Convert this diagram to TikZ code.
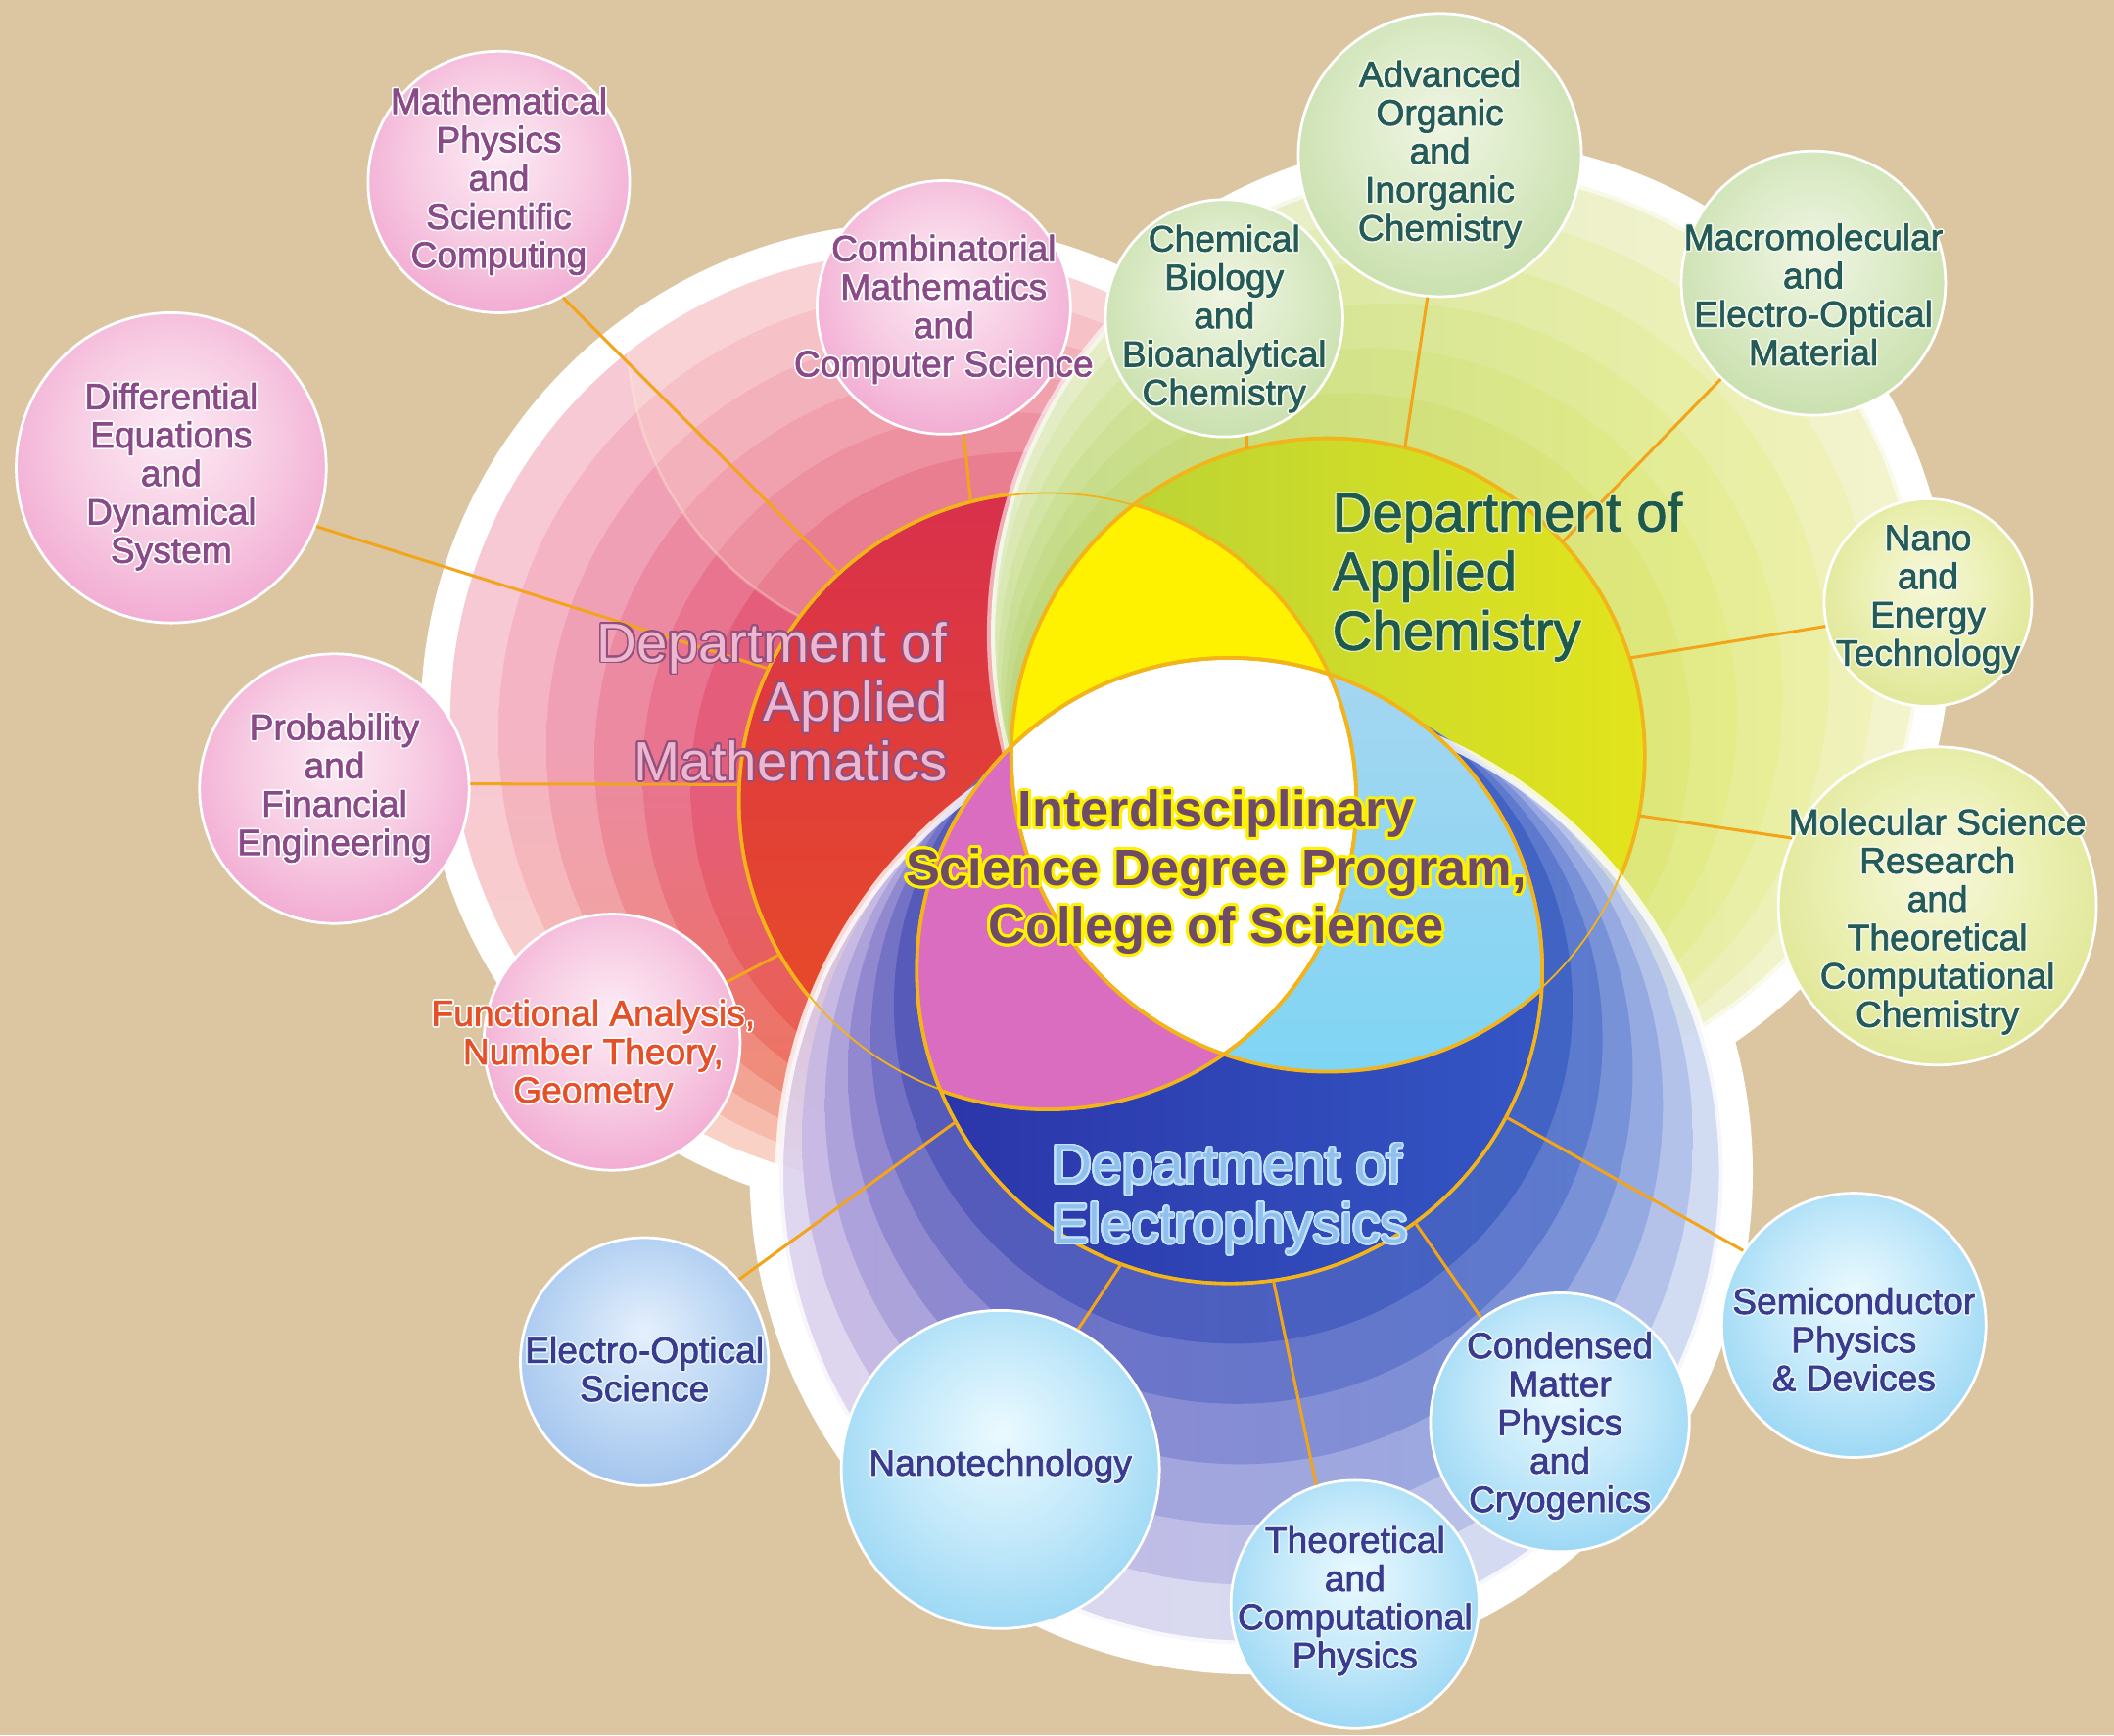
\documentclass[tikz,border=0pt]{standalone}
\usepackage{fontspec}
\setmainfont{Liberation Sans}
\usepackage{contour}
\contournumber{24}
\def\ctc{white}
\newcommand\ct[1]{\contour{\ctc}{#1}}
\newcommand\trmode[1]{\special{pdf:literal direct #1}}
\definecolor{bgtan}{HTML}{DCC6A2}
\definecolor{linkc}{HTML}{F2A51A}
\definecolor{ringc}{HTML}{F2B418}
\definecolor{R0}{HTML}{F7C9D4}\definecolor{R1}{HTML}{F4B4C4}\definecolor{R2}{HTML}{F0A0B4}
\definecolor{R3}{HTML}{EC8AA2}\definecolor{R4}{HTML}{E87490}\definecolor{R5}{HTML}{E45E7C}
\definecolor{Q0}{HTML}{F9D2C4}\definecolor{Q1}{HTML}{F6BCA8}\definecolor{Q2}{HTML}{F3A48C}
\definecolor{Q3}{HTML}{F08C70}\definecolor{Q4}{HTML}{EE7458}\definecolor{Q5}{HTML}{EC6044}
\definecolor{G0}{HTML}{E2ECC4}\definecolor{G1}{HTML}{DAE8B4}\definecolor{G2}{HTML}{D2E4A4}
\definecolor{G3}{HTML}{CADF96}\definecolor{G4}{HTML}{C4DB8A}\definecolor{G5}{HTML}{BED77E}
\definecolor{Y0}{HTML}{F4F4CC}\definecolor{Y1}{HTML}{F0F2B8}\definecolor{Y2}{HTML}{ECF0A6}
\definecolor{Y3}{HTML}{E8EE96}\definecolor{Y4}{HTML}{E4EC88}\definecolor{Y5}{HTML}{E0E87A}
\definecolor{B0}{HTML}{DCD2EE}\definecolor{B1}{HTML}{C6B8E4}\definecolor{B2}{HTML}{ACA0DA}
\definecolor{B3}{HTML}{9086CE}\definecolor{B4}{HTML}{7270C4}\definecolor{B5}{HTML}{5458B8}
\definecolor{C0}{HTML}{CCD8F0}\definecolor{C1}{HTML}{B0C0EA}\definecolor{C2}{HTML}{92A8E2}
\definecolor{C3}{HTML}{7490D8}\definecolor{C4}{HTML}{5878CE}\definecolor{C5}{HTML}{3E62C4}
\definecolor{redtop}{HTML}{D8304C}\definecolor{redbot}{HTML}{EA4F22}
\definecolor{grnl}{HTML}{B4D03A}\definecolor{grnr}{HTML}{E2E41C}
\definecolor{blul}{HTML}{2A34A8}\definecolor{blur}{HTML}{3456C4}
\definecolor{yelc}{HTML}{FFF200}
\definecolor{magc}{HTML}{DB6DC0}
\definecolor{lbtop}{HTML}{A6D6F0}\definecolor{lbbot}{HTML}{6CD4F6}
\definecolor{veil}{HTML}{FFF4D8}
\definecolor{ptxc}{HTML}{8A4A88}
\definecolor{otxc}{HTML}{E65028}
\definecolor{gtxc}{HTML}{245A58}
\definecolor{gctc}{HTML}{F2F7E6}
\definecolor{btxc}{HTML}{3A3A8E}
\definecolor{bctc}{HTML}{E2F4FC}
\definecolor{dmtx}{HTML}{EDB8CF}\definecolor{dmct}{HTML}{93507F}
\definecolor{dctx}{HTML}{1E5A4C}\definecolor{dcct}{HTML}{E2EAA6}
\definecolor{detx}{HTML}{90C0EE}\definecolor{dect}{HTML}{C4E2FA}
\definecolor{cetx}{HTML}{6E4C68}\definecolor{cect}{HTML}{FFF200}
\pgfdeclareradialshading{pinkball}{\pgfpoint{0bp}{6bp}}{rgb(0bp)=(0.99,0.92,0.96); rgb(16bp)=(0.97,0.80,0.89); rgb(34bp)=(0.94,0.62,0.80); rgb(50bp)=(0.91,0.50,0.73); rgb(62bp)=(0.91,0.50,0.73)}
\pgfdeclareradialshading{greenball}{\pgfpoint{0bp}{6bp}}{rgb(0bp)=(0.94,0.96,0.89); rgb(16bp)=(0.86,0.92,0.78); rgb(34bp)=(0.76,0.86,0.64); rgb(50bp)=(0.66,0.80,0.52); rgb(62bp)=(0.66,0.80,0.52)}
\pgfdeclareradialshading{ygball}{\pgfpoint{0bp}{6bp}}{rgb(0bp)=(0.97,0.97,0.86); rgb(16bp)=(0.92,0.94,0.70); rgb(34bp)=(0.86,0.89,0.54); rgb(50bp)=(0.80,0.85,0.42); rgb(62bp)=(0.80,0.85,0.42)}
\pgfdeclareradialshading{blueball}{\pgfpoint{0bp}{6bp}}{rgb(0bp)=(0.92,0.98,1.0); rgb(16bp)=(0.76,0.91,0.98); rgb(34bp)=(0.55,0.82,0.95); rgb(50bp)=(0.38,0.74,0.92); rgb(62bp)=(0.38,0.74,0.92)}
\pgfdeclareradialshading{lilacball}{\pgfpoint{0bp}{6bp}}{rgb(0bp)=(0.90,0.94,0.99); rgb(16bp)=(0.75,0.85,0.96); rgb(34bp)=(0.60,0.74,0.92); rgb(50bp)=(0.50,0.66,0.90); rgb(62bp)=(0.50,0.66,0.90)}
\begin{document}
\begin{tikzpicture}[x=1pt,y=-1pt,
  link/.style={draw=linkc, line width=2.2pt},
  orb/.style={circle, draw=white, line width=2pt, inner sep=0pt, shade, shading=#1},
  inring/.style={draw=ringc, line width=2.6pt},
  medium/.style={execute at begin node={\trmode{2 Tr 0.5 w 1 j}}, execute at end node={\trmode{0 Tr}}},
  ptx/.style={align=center, inner sep=0pt, text=ptxc, medium, font={\fontsize{27}{28.5}\selectfont\def\ctc{white}\contourlength{1.1pt}}},
  otx/.style={align=center, inner sep=0pt, text=otxc, medium, font={\fontsize{27}{28.5}\selectfont\def\ctc{white}\contourlength{1.1pt}}},
  gtx/.style={align=center, inner sep=0pt, text=gtxc, medium, font={\fontsize{27}{28.5}\selectfont\def\ctc{gctc}\contourlength{1.1pt}}},
  btx/.style={align=center, inner sep=0pt, text=btxc, medium, font={\fontsize{27}{28.5}\selectfont\def\ctc{bctc}\contourlength{1.1pt}}},
  deptm/.style={align=right, inner sep=0pt, text=dmtx, font={\fontsize{41}{44}\selectfont\def\ctc{dmct}\contourlength{1.3pt}}},
  deptc/.style={align=left, inner sep=0pt, text=dctx, medium, font={\fontsize{41}{44}\selectfont\def\ctc{dcct}\contourlength{1pt}}},
  depte/.style={align=left, inner sep=0pt, text=detx, font={\fontsize{41}{44}\selectfont\def\ctc{dect}\contourlength{1.3pt}}},
  centre/.style={align=center, inner sep=0pt, text=cetx, font={\bfseries\fontsize{38}{43}\selectfont\def\ctc{cect}\contourlength{2.2pt}}}
]
\useasboundingbox (0,0) rectangle (1568,1287);
\fill[bgtan] (0,0) rectangle (1568,1287);
% white backing
\fill[white] (680,533) circle (368) (1080,470) circle (367) (928,870) circle (372);
% red department rings
\foreach \cx/\cy/\r/\col/\bcol in {680/533/346/R0/Q0, 696.2/543.2/326.5/R1/Q1, 712.3/553.3/307/R2/Q2, 728.5/563.5/287.5/R3/Q3, 744.7/573.7/268/R4/Q4, 760.8/583.8/248.5/R5/Q5}
  \shade[top color=\col, bottom color=\bcol, middle color=\col] (\cx,\cy) circle (\r);
\begin{scope}
  \clip (680,533) circle (346);
  \fill[veil, opacity=0.22] (705,245) circle (240);
  \draw[veil, opacity=0.3, line width=2pt] (705,245) circle (240);
\end{scope}
\shade[top color=redtop, bottom color=redbot] (777,594) circle (229);
\draw[inring] (777,594) circle (229);
% green department rings
\foreach \cx/\cy/\r/\col/\rcol in {1080/470/345/G0/Y0, 1064.2/485/326.7/G1/Y1, 1048.3/500/308.3/G2/Y2, 1032.5/515/290/G3/Y3, 1016.7/530/271.7/G4/Y4, 1000.8/545/253.3/G5/Y5}
  \shade[left color=\col, right color=\rcol] (\cx,\cy) circle (\r);
\draw[white, opacity=0.6, line width=6pt] (1080,470) circle (345);
\shade[left color=grnl, right color=grnr] (985,560) circle (235);
\draw[inring] (985,560) circle (235);
\begin{scope}
  \clip (777,594) circle (229);
  \fill[yelc] (985,560) circle (235);
\end{scope}
% blue department rings
\begin{scope}[opacity=0.9]
\foreach \cx/\cy/\r/\col/\rcol in {928/870/350/B0/C0, 925.3/845/330.3/B1/C1, 922.7/820/310.7/B2/C2, 920/795/291/B3/C3, 917.3/770/271.3/B4/C4, 914.7/745/251.7/B5/C5}
  \shade[left color=\col, right color=\rcol] (\cx,\cy) circle (\r);
\end{scope}
\draw[white, opacity=0.8, line width=6pt] (928,870) circle (350);
\shade[left color=blul, right color=blur] (912,720) circle (232);
\draw[inring] (912,720) circle (232);
\begin{scope}
  \clip (777,594) circle (229);
  \fill[magc] (912,720) circle (232);
\end{scope}
\begin{scope}
  \clip (985,560) circle (235);
  \shade[top color=lbtop, bottom color=lbbot] (912,720) circle (232);
\end{scope}
\begin{scope}
  \clip (777,594) circle (229);
  \clip (985,560) circle (235);
  \fill[white] (912,720) circle (232);
\end{scope}
\foreach \kx/\ky/\kr in {777/594/229, 985/560/235, 912/720/232}{
  \begin{scope}
    \clip (\kx,\ky) circle (\kr);
    \draw[inring] (777,594) circle (229) (985,560) circle (235) (912,720) circle (232);
  \end{scope}
}
% sub-field circles
\node[orb=pinkball, minimum size=194pt] (mp) at (370,135) {};
\node[orb=pinkball, minimum size=188pt] (cm) at (700,228) {};
\node[orb=pinkball, minimum size=230pt] (de) at (127,347) {};
\node[orb=pinkball, minimum size=200pt] (pf) at (248,585) {};
\node[orb=pinkball, minimum size=190pt] (fa) at (454,773) {};
\node[orb=greenball, minimum size=176pt] (cb) at (908,236) {};
\node[orb=greenball, minimum size=210pt] (ao) at (1068,115) {};
\node[orb=greenball, minimum size=196pt] (mm) at (1345,210) {};
\node[orb=ygball, minimum size=154pt] (ne) at (1430,447) {};
\node[orb=ygball, minimum size=236pt] (ms) at (1437,672) {};
\node[orb=blueball, minimum size=196pt] (sd) at (1375,983) {};
\node[orb=blueball, minimum size=192pt] (cmp) at (1157,1055) {};
\node[orb=blueball, minimum size=184pt] (tc) at (1005,1190) {};
\node[orb=blueball, minimum size=236pt] (nt) at (742,1090) {};
\node[orb=lilacball, minimum size=184pt] (eo) at (478,1010) {};
% anchor points on the department rings
\coordinate (ra) at (622,425);
\coordinate (rb) at (720,372);
\coordinate (rc) at (570,496);
\coordinate (rd) at (548,582);
\coordinate (re) at (578,708);
\coordinate (ga) at (925,333);
\coordinate (gb) at (1042,332);
\coordinate (gc) at (1159,402);
\coordinate (gd) at (1209,488);
\coordinate (ge) at (1216,605);
\coordinate (ba) at (709,832);
\coordinate (bb) at (832,937);
\coordinate (bc) at (944.5,949.8);
\coordinate (bd) at (1049,906);
\coordinate (be) at (1116,828);
% connectors
\draw[link] (mp.-61) -- (ra);
\draw[link] (cm.-81) -- (rb);
\draw[link] (de.-22) -- (rc);
\draw[link] (pf.2) -- (rd);
\draw[link] (fa) -- (re);
\draw[link] (cb.-79) -- (ga);
\draw[link] (ao.-95) -- (gb);
\draw[link] (mm.-134) -- (gc);
\draw[link] (ne.-167) -- (gd);
\draw[link] (ms.155) -- (ge);
\draw[link] (eo.41) -- (ba);
\draw[link] (nt.61) -- (bb);
\draw[link] (tc.108) -- (bc);
\draw[link] (cmp.127) -- (bd);
\draw[link] (sd.146) -- (be);
% department labels
\node[deptm, anchor=east] (dm) at (703,521) {\ct{Department of}\\\ct{Applied}\\\ct{Mathematics}};
\node[deptc, anchor=west] (dc) at (988,428) {\ct{Department of}\\\ct{Applied}\\\ct{Chemistry}};
\node[depte, anchor=west] (dp) at (780,890) {\ct{Department of}\\\ct{Electrophysics}};
\node[centre] (ctr) at (902,648) {\ct{Interdisciplinary}\\\ct{Science Degree Program,}\\\ct{College of Science}};
% sub-field labels
\node[ptx] (mpt) at (370,135) {\ct{Mathematical}\\\ct{Physics}\\\ct{and}\\\ct{Scientific}\\\ct{Computing}};
\node[ptx] (cmt) at (700,230) {\ct{Combinatorial}\\\ct{Mathematics}\\\ct{and}\\\ct{Computer Science}};
\node[ptx] (det) at (127,354) {\ct{Differential}\\\ct{Equations}\\\ct{and}\\\ct{Dynamical}\\\ct{System}};
\node[ptx] (pft) at (248,585) {\ct{Probability}\\\ct{and}\\\ct{Financial}\\\ct{Engineering}};
\node[otx] (fat) at (440,783) {\ct{Functional Analysis,}\\\ct{Number Theory,}\\\ct{Geometry}};
\node[gtx] (cbt) at (908,237) {\ct{Chemical}\\\ct{Biology}\\\ct{and}\\\ct{Bioanalytical}\\\ct{Chemistry}};
\node[gtx] (aot) at (1068,115) {\ct{Advanced}\\\ct{Organic}\\\ct{and}\\\ct{Inorganic}\\\ct{Chemistry}};
\node[gtx] (mmt) at (1345,219) {\ct{Macromolecular}\\\ct{and}\\\ct{Electro-Optical}\\\ct{Material}};
\node[gtx] (net) at (1430,445) {\ct{Nano}\\\ct{and}\\\ct{Energy}\\\ct{Technology}};
\node[gtx] (mst) at (1437,684) {\ct{Molecular Science}\\\ct{Research}\\\ct{and}\\\ct{Theoretical}\\\ct{Computational}\\\ct{Chemistry}};
\node[btx] (sdt) at (1375,994) {\ct{Semiconductor}\\\ct{Physics}\\\ct{\& Devices}};
\node[btx] (cmpt) at (1157,1058) {\ct{Condensed}\\\ct{Matter}\\\ct{Physics}\\\ct{and}\\\ct{Cryogenics}};
\node[btx] (tct) at (1005,1188) {\ct{Theoretical}\\\ct{and}\\\ct{Computational}\\\ct{Physics}};
\node[btx] (ntt) at (742,1088) {\ct{Nanotechnology}};
\node[btx] (eot) at (478,1016) {\ct{Electro-Optical}\\\ct{Science}};
\end{tikzpicture}
\end{document}
